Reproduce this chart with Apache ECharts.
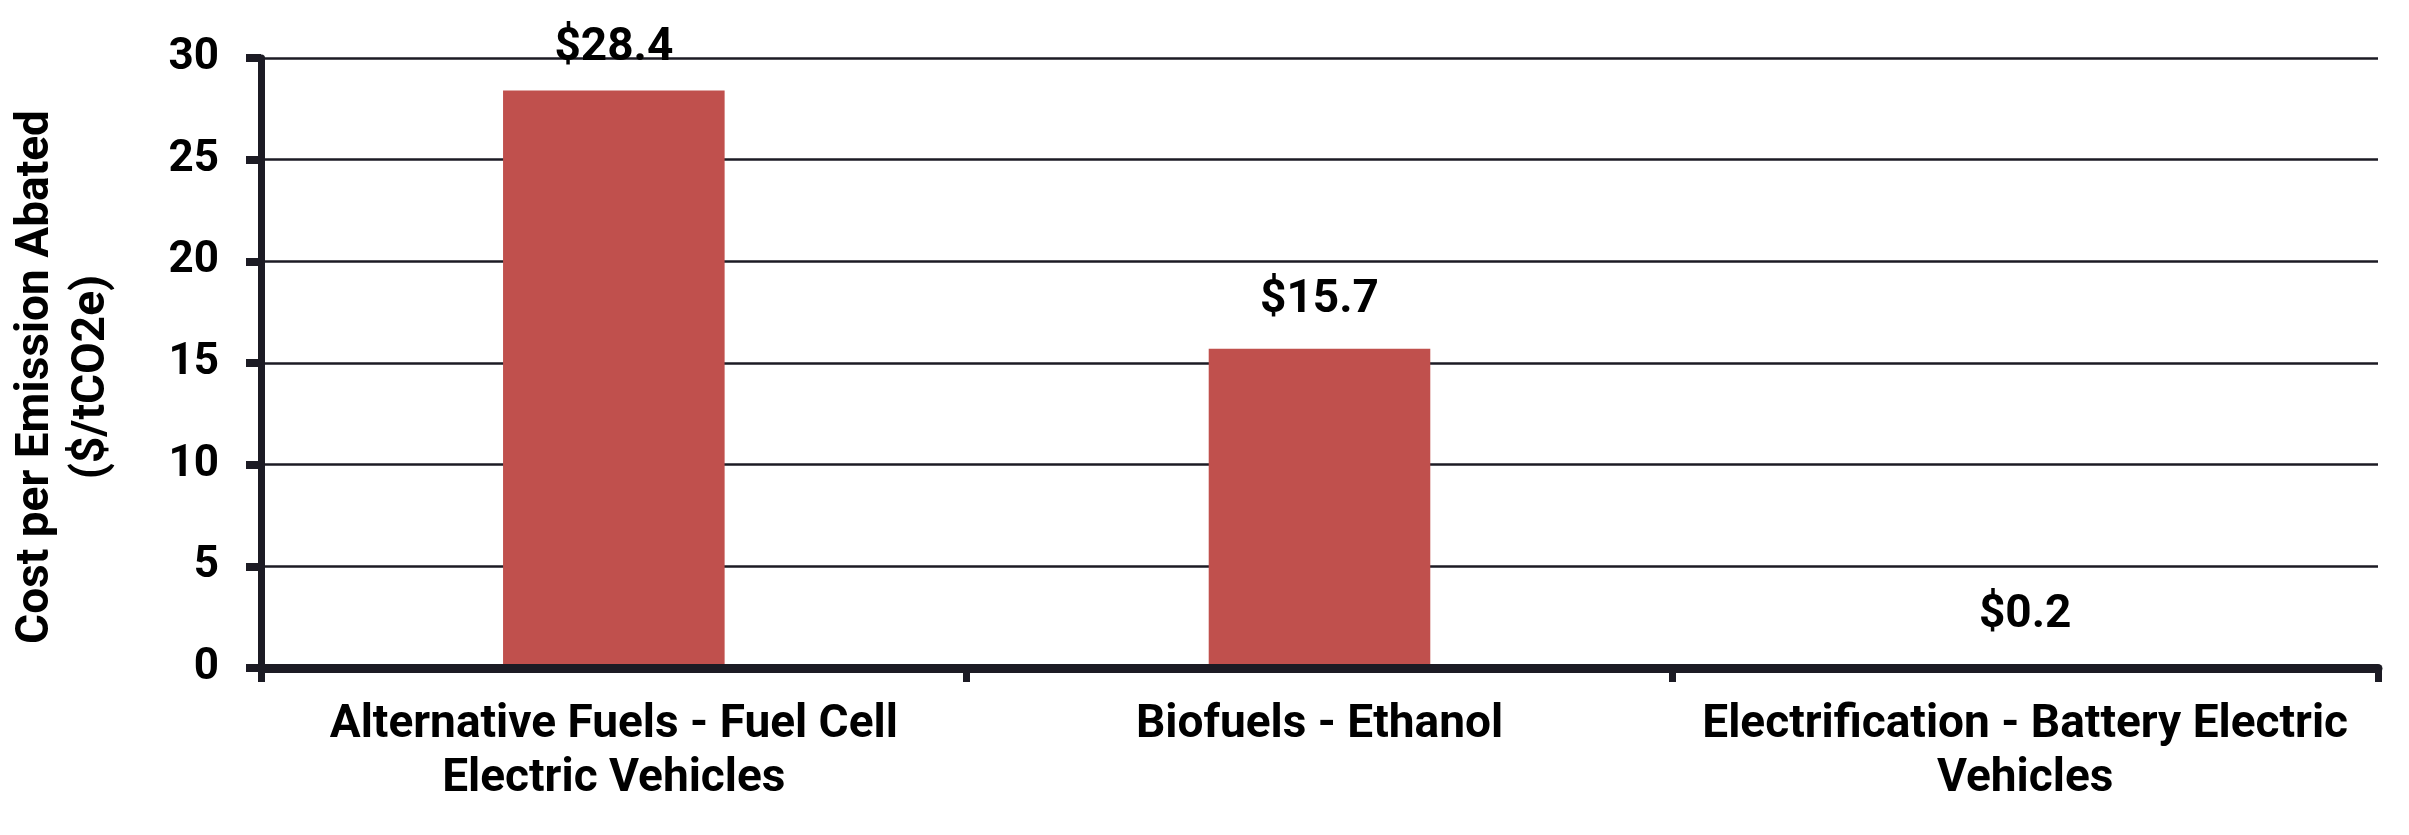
<!DOCTYPE html>
<html>
<head>
<meta charset="utf-8">
<style>
    html, body { margin: 0; padding: 0; background: #fff; }
    #chart { width: 2409px; height: 835px; }
</style>
<script src="https://cdn.jsdelivr.net/npm/echarts@6/dist/echarts.min.js"></script>
</head>
<body>
<div id="chart"></div>
<script>
// 分类与数值
let categories = [
    "Alternative Fuels - Fuel Cell\nElectric Vehicles",
    "Biofuels - Ethanol",
    "Electrification - Battery Electric\nVehicles"
];
let costValues = [28.4, 15.7, 0.2];
let yTicks = [0, 5, 10, 15, 20, 25, 30];

let axisColor = "#1c1b24";
let font = "Roboto";

let mychart = echarts.init(document.getElementById("chart"));
let options = {
    animation: false,
    grid: {
        left: 261,
        right: 31,
        top: 58,
        bottom: 167
    },
    xAxis: {
        type: "category",
        data: categories,
        z: 5,
        axisLine: {
            lineStyle: { color: axisColor, width: 9 }
        },
        axisTick: {
            show: true,
            length: 14,
            lineStyle: { color: axisColor, width: 7 }
        },
        axisLabel: {
            margin: 30,
            color: "#000",
            fontFamily: font,
            fontWeight: "bold",
            fontSize: 46,
            lineHeight: 54,
            interval: 0
        }
    },
    yAxis: {
        type: "value",
        min: yTicks[0],
        max: yTicks[yTicks.length - 1],
        interval: yTicks[1] - yTicks[0],
        name: "Cost per Emission Abated\n($/tCO2e)",
        nameLocation: "middle",
        nameGap: 141,
        nameTextStyle: {
            color: "#000",
            fontFamily: font,
            fontWeight: "bold",
            fontSize: 46,
            lineHeight: 56,
            padding: [0, 28, 0, 0]
        },
        axisLine: {
            show: true,
            lineStyle: { color: axisColor, width: 7 }
        },
        axisTick: {
            show: true,
            length: 15,
            lineStyle: { color: axisColor, width: 8 }
        },
        axisLabel: {
            margin: 42,
            color: "#000",
            fontFamily: font,
            fontWeight: "bold",
            fontSize: 44
        },
        splitLine: {
            lineStyle: { color: axisColor, width: 2.5 }
        }
    },
    series: [{
        type: "bar",
        barWidth: "31.4%",
        itemStyle: { color: "#c0504d" },
        label: {
            show: true,
            position: "top",
            distance: 25,
            color: "#000",
            fontFamily: font,
            fontWeight: "bold",
            fontSize: 46,
            formatter: function(p) {
                return "$" + p.value.toFixed(1);
            }
        },
        // 第一个标签在图表顶部被压低
        data: costValues.map((v, i) => i === 0 ? { value: v, label: { distance: 19 } } : v)
    }]
};
mychart.setOption(options);
</script>
</body>
</html>
